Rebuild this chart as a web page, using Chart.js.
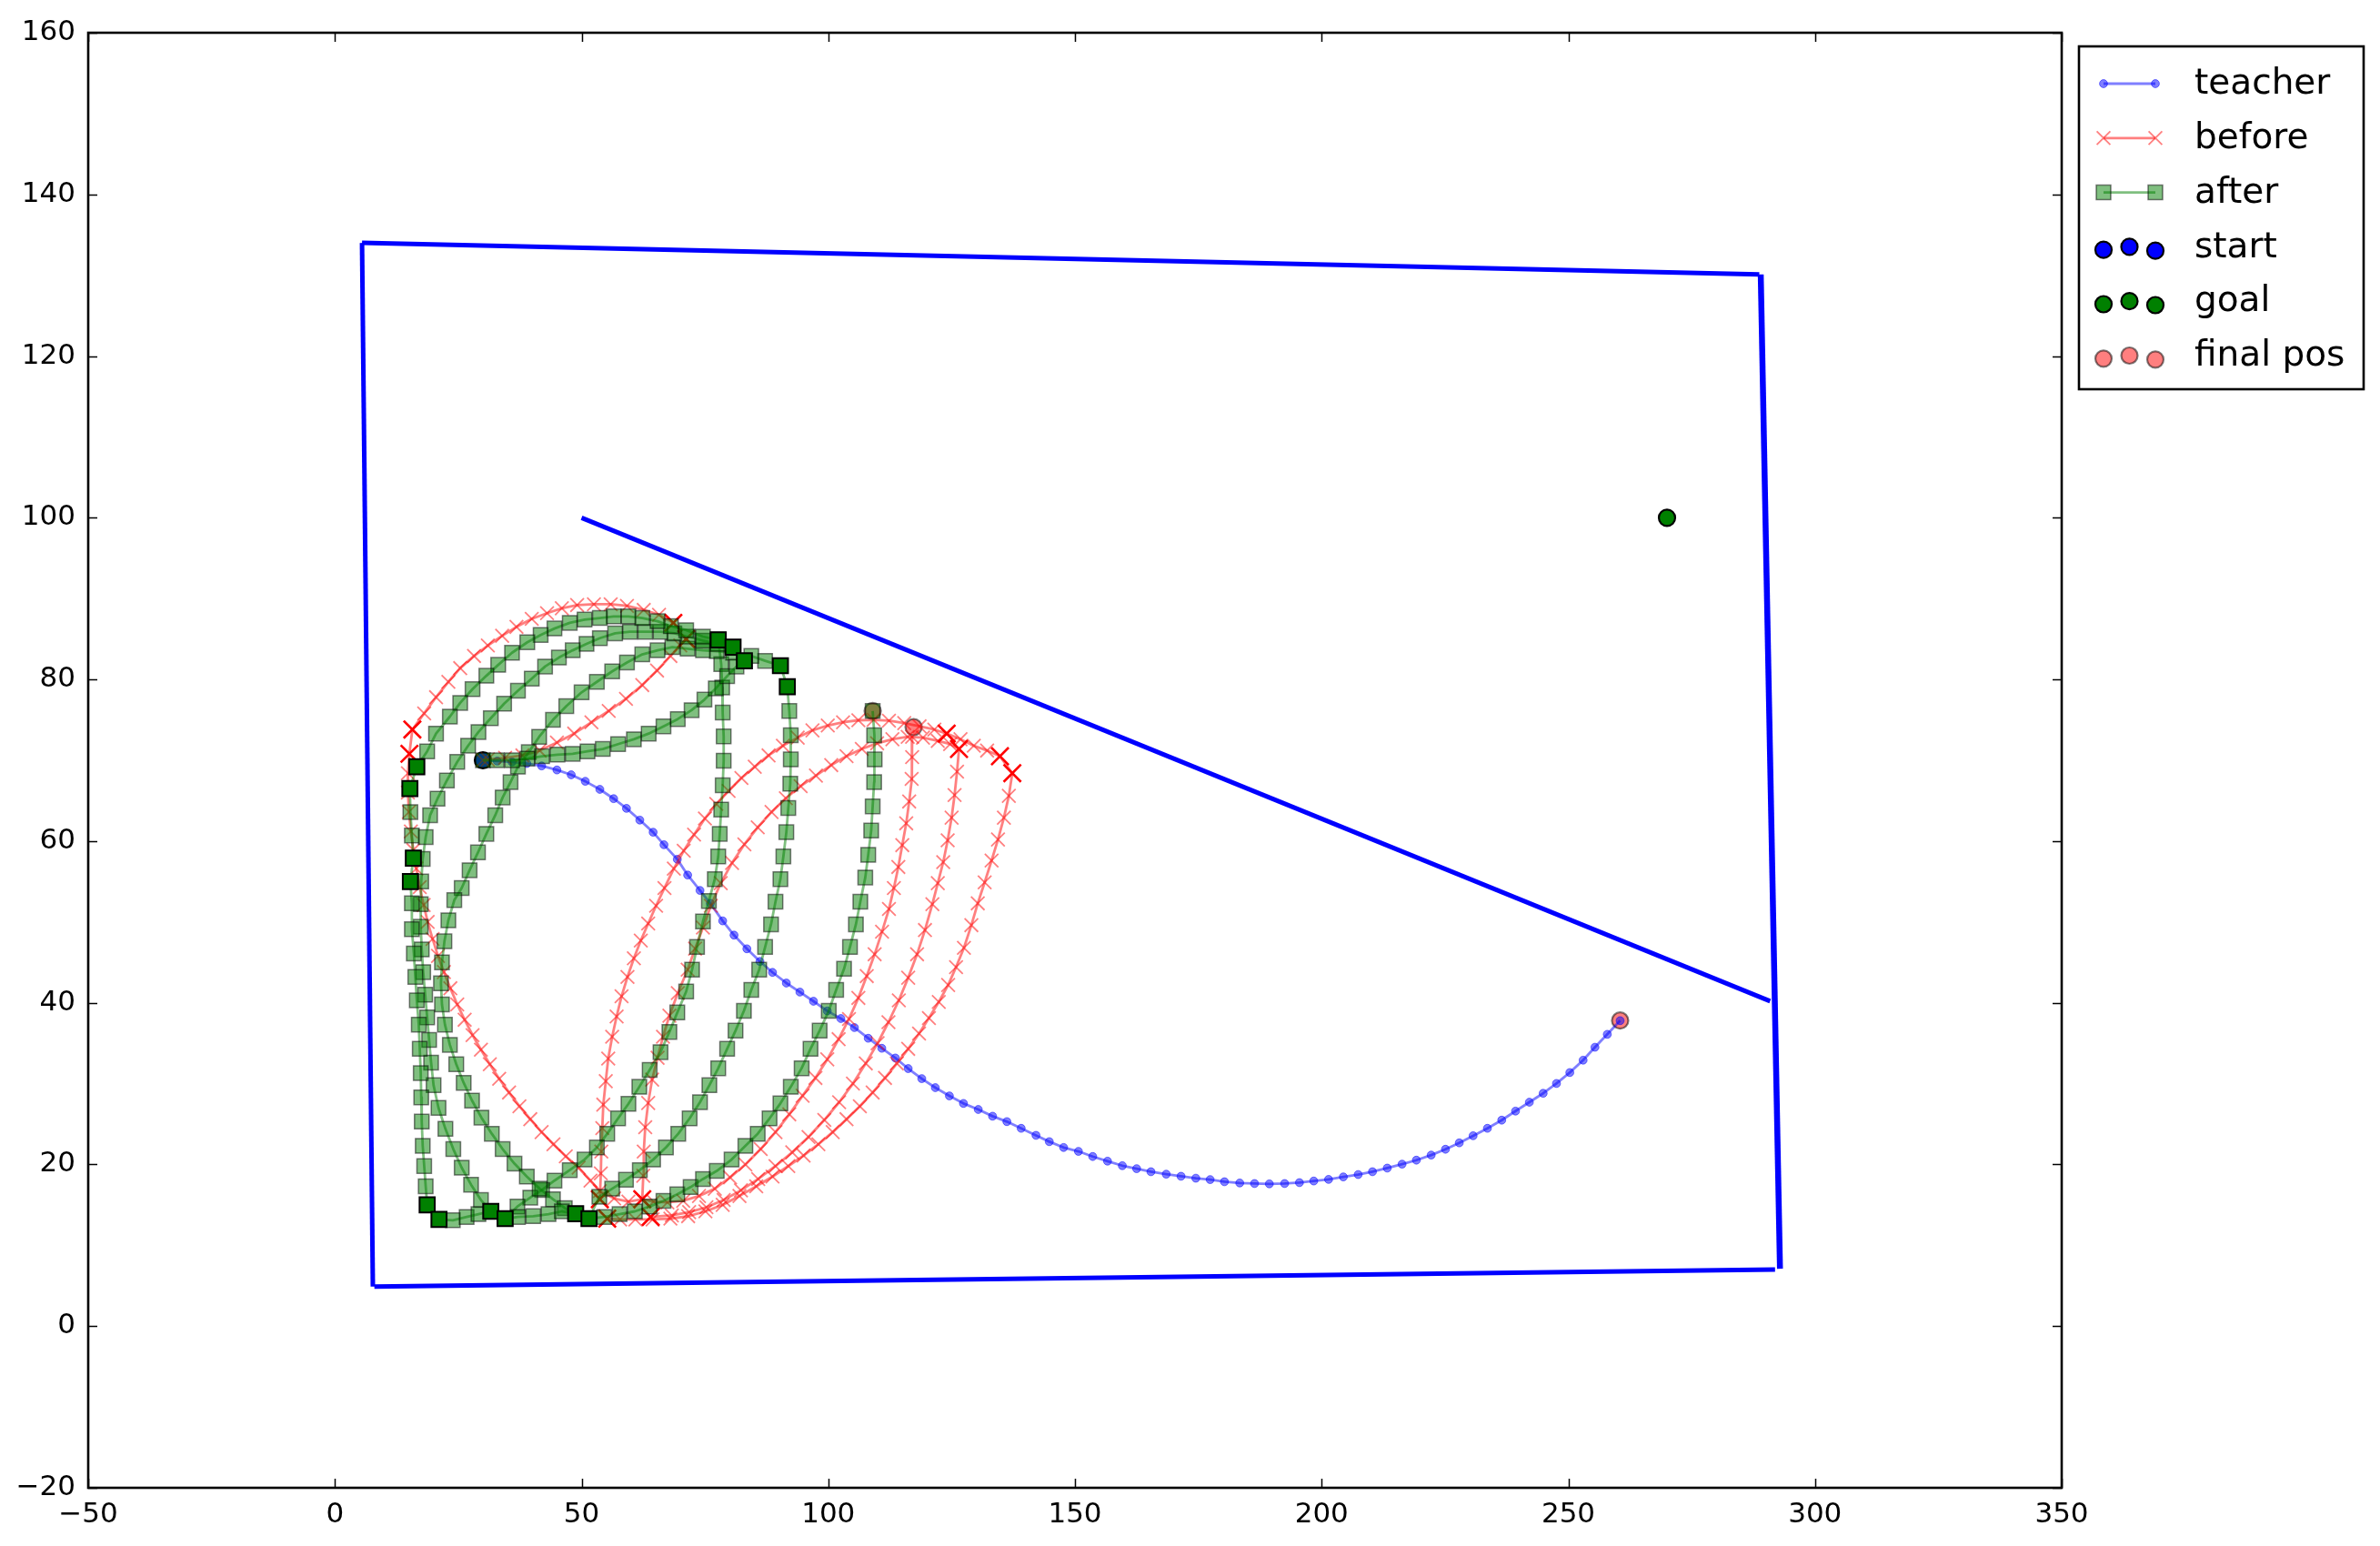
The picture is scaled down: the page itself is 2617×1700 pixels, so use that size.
<!DOCTYPE html>
<html><head><meta charset="utf-8">
<script src="https://cdn.jsdelivr.net/npm/chart.js@4.4.1/dist/chart.umd.min.js"></script>
<style>html,body{margin:0;padding:0;background:#fff;}canvas{display:block;}</style>
</head><body>
<canvas id="c" width="2617" height="1700" style="width:2617px;height:1700px"></canvas>
<script>
// ---------- axis ticks ----------
const xTicks = [-50, 0, 50, 100, 150, 200, 250, 300, 350];
const yTicks = [-20, 0, 20, 40, 60, 80, 100, 120, 140, 160];

// ---------- environment ----------
const wallTop    = [[5.5,134.0],[288.7,130.1]];
const wallRight  = [[289.0,130.1],[292.9,7.1]];
const wallBottom = [[8.0,4.9],[291.9,7.0]];
const wallLeft   = [[5.5,134.0],[7.7,4.9]];
const wallInner  = [[50.0,100.0],[290.9,40.2]];
const startPts = [[30.0,70.0]];
const goalPts  = [[270.0,100.0]];
const finalPts = [[260.5,37.8],[117.3,74.1],[109.0,76.1]];

// ---------- teacher ----------
const teacherPts = [[30.0,70.0],[32.9,69.9],[35.9,69.8],[38.9,69.6],[41.9,69.3],[45.0,68.8],[47.9,68.2],[50.75,67.4],[53.7,66.4],[56.5,65.25],[59.1,64.05],[61.8,62.6],[64.5,61.1],[66.7,59.55],[69.4,57.75],[71.5,55.8],[74.0,53.9],[76.1,52.3],
[78.6,50.13],[80.9,48.37],[83.5,46.68],[86.15,45.11],[88.7,43.76],[91.5,42.44],[94.25,41.32],[97.0,40.19],[99.8,38.99],[102.55,38.05],[105.3,36.93],[108.1,35.61],[110.85,34.37],[113.6,33.17],[116.2,31.86],[118.95,30.62],[121.7,29.5],[124.55,28.48],[127.4,27.55],[130.4,26.8],[133.3,25.97],[136.2,25.3],[139.1,24.47],[142.1,23.6],
[144.8,22.82],[147.7,22.10],[150.7,21.62],[153.6,20.98],[156.6,20.41],[159.6,19.85],[162.5,19.48],[165.4,19.10],[168.5,18.80],[171.5,18.54],[174.5,18.3],[177.4,18.13],[180.3,17.86],[183.4,17.71],[186.4,17.64],[189.4,17.60],[192.5,17.64],[195.5,17.75],[198.4,17.95],[201.4,18.15],[204.4,18.46],[207.4,18.75],[210.3,19.10],[213.3,19.55],[216.3,20.04],[219.2,20.53],[222.2,21.16],[225.1,21.88],[227.9,22.67],[230.7,23.55],[233.6,24.47],[236.5,25.48],[239.3,26.6],[242.1,27.7],[244.9,28.8],[247.6,30.02],[250.3,31.37],[253.0,32.9],[255.4,34.5],[257.9,36.1],[260.5,37.79]];

// ---------- before (red x) ----------
const beforeInner = [[30.0,70.0],[31.0,70.1],[34.5,70.3],[38.0,70.6],[41.5,71.2],[45.0,72.2],[48.5,73.3],[52.0,74.7],[55.5,76.1],[59.0,77.6],[62.3,79.3],[65.3,81.1],[68.0,82.9],[70.0,84.2],[71.2,85.0]];
const beforeOuter = [[68.6,87.0],[65.7,88.0],[62.6,88.6],[59.2,89.1],[55.9,89.3],[52.5,89.3],[49.1,89.2],[46.0,88.8],[43.0,88.2],[39.9,87.5],[36.8,86.5],[33.9,85.4],[31.0,84.2],[28.2,82.9],[25.4,81.4],[23.0,79.7],[20.5,77.8],[18.1,75.8],[15.7,73.8],[15.1,70.8],[14.8,68.4],[14.8,66.0],[15.0,63.6],[15.4,61.2],[15.9,58.9],[16.5,56.6],[17.2,54.3],[18.0,52.1],[18.8,50.0],[19.8,47.9],[20.9,45.8],[22.1,43.8],[23.4,41.8],[24.8,39.8],[26.3,37.9],[27.9,36.0],[29.6,34.2],[31.4,32.4],[33.3,30.6],[35.3,28.9],[37.4,27.2],[39.6,25.6],[41.9,24.0],[44.3,22.5],[46.8,21.0],[49.4,19.6],[51.8,18.0],[53.7,16.7],[56.6,15.8],[59.5,15.4],[62.3,15.7]];
const beforeUp1 = [[53.7,15.7],[53.9,18.9],[54.0,21.6],[54.2,24.5],[54.4,27.4],[54.9,30.3],[55.4,33.1],[56.2,35.8],[57.1,38.3],[58.1,40.8],[59.3,43.2],[60.6,45.5],[62.0,47.7],[63.5,49.8],[65.1,52.0],[66.8,54.2],[68.7,56.6],[70.7,58.8],[72.8,60.8],[75.0,62.8],[77.3,64.6],[79.8,66.2],[82.4,67.8],[85.1,69.2],[87.9,70.6],[90.8,71.8],[93.8,72.8],[96.8,73.7],[99.9,74.3],[103.0,74.7],[106.1,74.95],[109.2,75.0],[112.3,74.9],[115.4,74.6],[118.5,74.2],[121.5,73.8],[124.0,73.3],[126.8,72.6],[129.5,71.8],[132.2,71.2],[134.8,70.5],[137.3,68.4]];
const beforeUp2 = [[62.3,15.7],[62.5,18.6],[62.6,21.6],[62.9,24.6],[63.5,27.6],[64.3,30.5],[65.4,33.2],[66.5,35.8],[67.8,38.4],[69.5,41.2],[71.5,44.1],[73.0,46.7],[74.6,49.3],[76.2,52.0],[78.2,54.8],[80.5,57.3],[83.0,59.6],[85.7,61.7],[88.5,63.6],[91.4,65.3],[94.4,66.8],[97.5,68.1],[100.6,69.4],[103.7,70.5],[106.8,71.4],[109.9,72.1],[113.0,72.6],[116.1,72.9],[119.2,72.8],[122.2,72.4],[124.7,72.0],[126.5,71.4]];
const beforeDownA = [[117.0,72.9],[117.0,70.4],[116.9,67.7],[116.4,64.9],[115.8,62.2],[115.0,59.5],[114.2,56.8],[113.3,54.2],[112.3,51.6],[110.9,48.8],[109.4,46.0],[107.8,43.3],[106.1,40.6],[104.2,38.0],[102.1,35.5],[99.8,33.0],[97.4,30.7],[94.8,28.5],[92.1,26.2],[89.3,24.0],[86.3,21.9],[83.2,20.0],[80.1,18.4],[77.0,17.0],[73.8,16.1],[70.6,15.5],[67.4,15.3],[64.6,15.4],[62.3,15.7]];
const beforeDownB = [[126.5,71.4],[126.1,68.6],[125.6,65.7],[125.0,62.9],[124.2,60.1],[123.3,57.4],[122.2,54.8],[121.1,52.2],[119.6,49.0],[118.0,46.0],[116.2,43.1],[114.3,40.3],[112.2,37.6],[110.0,35.0],[107.6,32.5],[105.0,30.0],[102.2,27.7],[99.2,25.5],[96.0,23.4],[92.7,21.5],[89.3,19.8],[85.8,18.2],[82.3,16.8],[78.8,15.6],[75.3,14.7],[71.8,14.1],[68.3,13.7],[64.0,13.5]];
const beforeDownC = [[137.3,68.4],[136.6,65.6],[135.6,62.9],[134.4,60.2],[133.1,57.6],[131.7,54.9],[130.3,52.3],[129.0,49.6],[127.5,46.8],[125.9,44.4],[124.3,42.2],[122.4,40.1],[120.4,38.1],[118.4,36.2],[116.2,34.3],[113.9,32.5],[111.5,30.7],[109.0,28.9],[106.4,27.2],[103.7,25.6],[100.9,24.0],[98.0,22.5],[95.0,21.1],[91.9,19.8],[88.7,18.5],[85.4,17.3],[82.0,16.1],[78.6,15.0],[75.1,14.2],[71.6,13.6],[68.0,13.3],[64.4,13.2],[60.9,13.2],[57.8,13.2],[55.2,13.3]];
const beforeTurns = [[15.7,73.8],[15.1,70.8],[68.6,87.0],[71.2,85.0],[53.7,15.7],[55.2,13.3],[62.3,15.7],[64.0,13.5],[124.0,73.3],[126.5,71.4],[134.8,70.5],[137.3,68.4]];

// ---------- after (green squares) ----------
const afterFromStart = [[30.0,70.0],[32.8,70.0],[35.9,70.0],[39.0,70.2],[42.0,70.5],[45.1,70.7],[48.2,70.8],[51.2,71.1],[54.3,71.4],[57.4,72.0],[60.6,72.6],[63.6,73.3],[66.6,74.2],[69.5,75.1],[72.3,76.2],[74.9,77.5],[77.2,78.9],[79.5,80.4],[81.4,81.6],[83.0,82.3]];
const afterOuter = [[77.7,84.9],[74.6,85.3],[71.2,86.1],[68.1,86.6],[65.4,87.2],[62.3,87.6],[59.5,87.8],[56.5,87.8],[53.7,87.6],[50.6,87.4],[47.6,87.0],[44.5,86.3],[41.7,85.5],[39.0,84.6],[35.9,83.3],[33.1,81.8],[30.7,80.45],[27.9,78.8],[25.4,77.1],[23.3,75.4],[20.5,73.3],[18.7,71.1],[16.6,69.2],[15.2,66.5],[15.3,63.6],[15.6,60.7],[15.9,57.9],[15.3,55.0],[15.6,52.3],[15.6,49.1],[16.0,46.1],[16.3,43.2],[16.6,40.3],[17.0,37.3],[17.2,34.3],[17.4,31.3],[17.5,28.3],[17.6,25.3],[17.8,22.3],[18.1,19.8],[18.4,17.3],[18.7,15.0],[21.1,13.2],[23.9,13.1],[26.7,13.5],[29.1,13.85],[31.6,14.2],[34.5,13.3],[37.1,13.5],[40.2,13.6],[43.3,13.85],[46.0,14.2],[48.8,13.9],[51.5,13.3],[54.6,13.5],[57.7,13.85],[60.8,14.2],[63.8,14.8],[66.6,15.5],[69.4,16.3],[72.1,17.2],[74.6,18.2],[77.4,19.2],[80.4,20.6],[83.2,22.3],[85.7,23.8],[88.1,25.7],[90.3,27.55],[92.4,29.6],[94.6,31.9],[96.4,34.3],[98.25,36.55],[100.1,39.0],[101.6,41.6],[103.2,44.2],[104.4,46.9],[105.6,49.7],[106.5,52.5],[107.5,55.5],[108.1,58.3],[108.7,61.3],[109.0,64.3],[109.3,67.3],[109.4,70.1],[109.3,73.1],[109.0,76.1]];
const afterLoop2 = [[80.7,84.0],[77.6,84.4],[74.6,84.8],[71.5,85.3],[68.8,85.7],[66.0,85.9],[62.9,85.9],[59.8,85.9],[56.8,85.7],[53.7,85.1],[51.0,84.4],[48.2,83.6],[45.4,82.7],[42.6,81.6],[39.9,80.1],[37.1,78.6],[34.3,77.0],[31.6,75.2],[29.1,73.5],[27.0,71.8],[24.8,69.8],[22.7,67.5],[20.8,65.25],[19.3,63.2],[18.4,60.5],[17.8,57.8],[17.5,55.0],[17.4,52.2],[17.4,49.4],[17.6,46.6],[17.9,43.8],[18.3,41.0],[18.7,38.2],[19.1,35.4],[19.5,32.6],[20.0,29.8],[21.0,27.0],[22.4,24.4],[24.0,21.9],[25.7,19.6],[27.6,17.5],[29.6,15.6],[31.6,14.2]];
const afterLoop3 = [[90.3,81.7],[87.2,82.3],[84.4,82.9],[80.7,83.3],[77.4,83.5],[74.6,83.6],[71.5,83.8],[68.4,84.0],[65.4,83.6],[62.3,83.1],[59.2,82.1],[56.2,81.0],[53.1,79.7],[50.0,78.4],[46.9,76.7],[44.2,75.0],[41.4,72.9],[39.3,71.0],[37.1,69.2],[35.6,67.3],[34.0,65.4],[32.5,63.2],[30.7,60.9],[29.0,58.6],[27.3,56.4],[25.7,54.2],[24.2,52.7],[23.0,50.2],[22.2,47.6],[21.7,45.0],[21.5,42.4],[21.7,39.8],[22.3,37.3],[23.3,34.8],[24.6,32.4],[26.1,30.1],[27.8,27.9],[29.7,25.8],[31.8,23.8],[34.0,21.9],[36.4,20.1],[38.9,18.5],[41.5,17.0],[44.2,15.7],[46.6,14.6],[48.8,13.9]];
const afterDiag78 = [[77.7,84.9],[78.3,81.9],[78.5,79.0],[78.6,75.9],[78.8,72.95],[78.8,69.95],[78.6,66.9],[78.3,63.9],[78.0,60.9],[77.7,58.1],[77.0,55.3],[75.8,52.6],[74.6,50.06],[73.4,46.9],[72.4,44.1],[71.2,41.4],[69.4,38.8],[67.8,36.4],[66.0,33.9],[63.8,31.7],[61.7,29.6],[59.5,27.5],[57.4,25.7],[55.2,23.8],[53.1,22.1],[50.6,20.6],[47.6,19.3],[44.5,18.0],[42.0,16.85],[39.6,15.9],[37.0,14.8],[34.5,13.3]];
const afterDiag90 = [[90.3,81.7],[91.7,79.1],[92.1,76.1],[92.4,73.1],[92.4,70.1],[92.3,67.1],[91.9,64.1],[91.5,61.1],[90.9,58.1],[90.3,55.3],[89.3,52.5],[88.4,49.7],[87.2,46.9],[86.0,44.1],[84.4,41.6],[82.9,39.0],[81.2,36.55],[79.5,34.3],[77.7,31.9],[75.9,29.8],[74.0,27.7],[71.9,25.7],[69.6,23.8],[67.1,22.1],[64.5,20.6],[61.8,19.3],[59.0,18.1],[56.2,17.0],[53.6,16.0],[51.5,13.3]];
const afterTurns = [[16.6,69.2],[15.2,66.5],[15.9,57.9],[15.3,55.0],[18.7,15.0],[21.1,13.2],[31.6,14.2],[34.5,13.3],[48.8,13.9],[51.5,13.3],[77.7,84.9],[80.7,84.0],[83.0,82.3],[90.3,81.7],[91.7,79.1]];

// ---------- chart ----------
const P = a => a.map(([x, y]) => ({x, y}));
const FONT = '"DejaVu Sans", sans-serif';
Chart.defaults.font.family = FONT;

const wallDs = (pts, w) => ({data: P(pts), showLine: true, borderColor: 'rgb(0,0,255)', borderWidth: w, pointRadius: 0, order: 60, borderCapStyle: 'butt'});
const beforeStyle = {showLine: true, borderColor: 'rgba(255,0,0,0.5)', borderWidth: 2.8, borderJoinStyle: 'round',
  pointStyle: 'crossRot', pointRadius: 10.5, pointBorderColor: 'rgba(255,0,0,0.5)', pointBorderWidth: 1.8, pointBackgroundColor: 'rgba(0,0,0,0)', order: 40};
const afterStyle = {showLine: true, borderColor: 'rgba(0,128,0,0.5)', borderWidth: 2.8, borderJoinStyle: 'round',
  pointStyle: 'rect', pointRadius: 11.3, pointBackgroundColor: 'rgba(0,128,0,0.5)', pointBorderColor: 'rgba(0,0,0,0.5)', pointBorderWidth: 1.5, order: 30};

const teacherDs = {label: 'teacher', data: P(teacherPts), showLine: true, borderColor: 'rgba(0,0,255,0.5)', borderWidth: 2.8, borderJoinStyle: 'round',
  pointStyle: 'circle', pointRadius: 4.4, pointBackgroundColor: 'rgba(0,0,255,0.5)', pointBorderColor: 'rgba(0,0,255,0.5)', pointBorderWidth: 1, order: 50};
const beforeDs = [beforeInner, beforeOuter, beforeUp1, beforeUp2, beforeDownA, beforeDownB, beforeDownC].map((a, i) => Object.assign({label: i === 0 ? 'before' : '', data: P(a)}, beforeStyle));
const beforeTurnDs = {data: P(beforeTurns), showLine: false, pointStyle: 'crossRot', pointRadius: 13.5, pointBorderColor: 'rgb(255,0,0)', pointBorderWidth: 2.6, order: 39};
const afterDs = [afterFromStart, afterOuter, afterLoop2, afterLoop3, afterDiag78, afterDiag90].map((a, i) => Object.assign({label: i === 0 ? 'after' : '', data: P(a)}, afterStyle));
const afterTurnDs = {data: P(afterTurns), showLine: false, pointStyle: 'rect', pointRadius: 11.8, pointBackgroundColor: 'rgb(0,128,0)', pointBorderColor: '#000', pointBorderWidth: 2, order: 29};
const startDs = {label: 'start', data: P(startPts), showLine: false, pointStyle: 'circle', pointRadius: 9, pointBackgroundColor: 'rgb(0,0,255)', pointBorderColor: '#000', pointBorderWidth: 2.2, order: 100};
const goalDs  = {label: 'goal', data: P(goalPts), showLine: false, pointStyle: 'circle', pointRadius: 9, pointBackgroundColor: 'rgb(0,128,0)', pointBorderColor: '#000', pointBorderWidth: 2.2, order: 100};
const finalDs = {label: 'final pos', data: P(finalPts), showLine: false, pointStyle: 'circle', pointRadius: 9, pointBackgroundColor: 'rgba(255,0,0,0.5)', pointBorderColor: 'rgba(0,0,0,0.5)', pointBorderWidth: 2.2, order: 100};

const datasets = [
  wallDs(wallTop, 5), wallDs(wallRight, 6.5), wallDs(wallBottom, 5), wallDs(wallLeft, 5), wallDs(wallInner, 5),
  teacherDs, ...beforeDs, beforeTurnDs, ...afterDs, afterTurnDs, startDs, goalDs, finalDs
];

function drawMark(ctx, ds, x, y) {
  const style = ds.pointStyle, r = ds.pointRadius;
  ctx.save();
  ctx.lineWidth = ds.pointBorderWidth; ctx.strokeStyle = ds.pointBorderColor; ctx.fillStyle = ds.pointBackgroundColor || 'rgba(0,0,0,0)';
  ctx.beginPath();
  if (style === 'circle') { ctx.arc(x, y, r, 0, Math.PI * 2); ctx.fill(); ctx.stroke(); }
  else if (style === 'rect') { const s = r * Math.SQRT1_2; ctx.rect(x - s, y - s, 2 * s, 2 * s); ctx.fill(); ctx.stroke(); }
  else if (style === 'crossRot') { const d = r * Math.SQRT1_2; ctx.moveTo(x - d, y - d); ctx.lineTo(x + d, y + d); ctx.moveTo(x - d, y + d); ctx.lineTo(x + d, y - d); ctx.stroke(); }
  ctx.restore();
}

const legendItems = [
  {ds: teacherDs, kind: 'line'}, {ds: beforeDs[0], kind: 'line'}, {ds: afterDs[0], kind: 'line'},
  {ds: startDs, kind: 'scatter'}, {ds: goalDs, kind: 'scatter'}, {ds: finalDs, kind: 'scatter'}
];

const framePlugin = {
  id: 'frame',
  afterDatasetsDraw(chart) {
    const {ctx, chartArea: a, scales: {x, y}} = chart;
    ctx.save();
    ctx.strokeStyle = '#000'; ctx.lineWidth = 1.5;
    ctx.beginPath();
    x.ticks.forEach(t => { const p = Math.round(x.getPixelForValue(t.value)) + 0.5;
      ctx.moveTo(p, a.bottom); ctx.lineTo(p, a.bottom - 10); ctx.moveTo(p, a.top); ctx.lineTo(p, a.top + 10); });
    y.ticks.forEach(t => { const p = Math.round(y.getPixelForValue(t.value)) + 0.5;
      ctx.moveTo(a.left, p); ctx.lineTo(a.left + 10, p); ctx.moveTo(a.right, p); ctx.lineTo(a.right - 10, p); });
    ctx.stroke();
    ctx.lineWidth = 2.6;
    ctx.strokeRect(a.left, a.top, a.right - a.left, a.bottom - a.top);
    ctx.restore();
  },
  afterDraw(chart) {
    const ctx = chart.ctx;
    ctx.save();
    ctx.fillStyle = '#fff'; ctx.strokeStyle = '#000'; ctx.lineWidth = 2.6;
    ctx.fillRect(2286, 51, 313, 377); ctx.strokeRect(2286, 51, 313, 377);
    const x1 = 2313, x2 = 2370, xm = 2341.5;
    legendItems.forEach((it, i) => {
      const yc = 92 + 59.8 * i;
      const ds = it.ds;
      if (it.kind === 'line') {
        ctx.save(); ctx.strokeStyle = ds.borderColor; ctx.lineWidth = ds.borderWidth;
        ctx.beginPath(); ctx.moveTo(x1, yc); ctx.lineTo(x2, yc); ctx.stroke(); ctx.restore();
        drawMark(ctx, ds, x1, yc); drawMark(ctx, ds, x2, yc);
      } else {
        drawMark(ctx, ds, x1, yc + 3.3); drawMark(ctx, ds, xm, yc); drawMark(ctx, ds, x2, yc + 4.3);
      }
      ctx.fillStyle = '#000'; ctx.font = '39px ' + FONT; ctx.textBaseline = 'middle'; ctx.textAlign = 'left';
      ctx.fillText(ds.label, 2413, yc + 1);
    });
    ctx.restore();
  }
};

const fmt = v => (v < 0 ? '\u2212' + Math.abs(v) : String(v));

new Chart(document.getElementById('c'), {
  type: 'scatter',
  data: {datasets},
  options: {
    responsive: false, animation: false, devicePixelRatio: 1,
    layout: {padding: {left: 0, right: 350, top: 36, bottom: 0}, autoPadding: false},
    plugins: {legend: {display: false}, tooltip: {enabled: false}},
    elements: {line: {tension: 0}},
    scales: {
      x: {type: 'linear', min: xTicks[0], max: xTicks[xTicks.length - 1],
        ticks: {stepSize: 50, color: '#000', font: {size: 31, family: FONT}, padding: 11, maxRotation: 0, callback: fmt},
        grid: {display: false, drawTicks: false}, border: {display: false},
        afterFit: s => { s.height = 64; }},
      y: {type: 'linear', min: yTicks[0], max: yTicks[yTicks.length - 1],
        ticks: {stepSize: 20, color: '#000', font: {size: 31, family: FONT}, padding: 14, callback: fmt},
        grid: {display: false, drawTicks: false}, border: {display: false},
        afterFit: s => { s.width = 97; }}
    }
  },
  plugins: [framePlugin]
});
</script>
</body></html>
